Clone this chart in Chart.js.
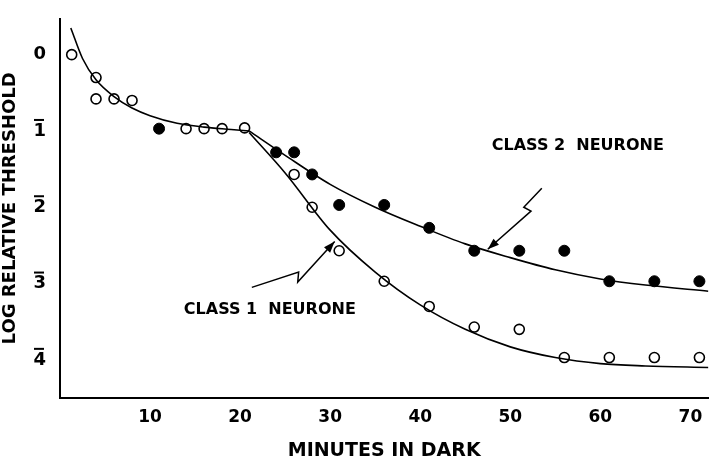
<!DOCTYPE html>
<html><head><meta charset="utf-8">
<script src="https://cdn.jsdelivr.net/npm/chart.js@4"></script>
<style>body{margin:0;background:#fff}#w{width:715px;height:464px}</style>
</head><body><div id="w"><canvas id="c"></canvas></div>
<script>
// data
const openX = [1.3, 4, 4, 6, 8, 14, 16, 18, 20.5, 26, 28, 31, 36, 41, 46, 51, 56, 61, 66, 71];
const openY = [0, 0.3, 0.58, 0.58, 0.6, 0.97, 0.97, 0.97, 0.96, 1.57, 2, 2.57, 2.97, 3.3, 3.57, 3.6, 3.97, 3.97, 3.97, 3.97];
const fillX = [11, 24, 26, 28, 31, 36, 41, 46, 51, 56, 61, 66, 71];
const fillY = [0.97, 1.28, 1.28, 1.57, 1.97, 1.97, 2.27, 2.57, 2.57, 2.57, 2.97, 2.97, 2.97];
const earlyX = [1.2, 2.5, 4, 6, 8, 10, 13, 16, 19, 21];
const earlyY = [-0.35, 0.05, 0.33, 0.55, 0.7, 0.8, 0.9, 0.95, 0.98, 1.0];
const c2X = [21, 25, 30, 35, 40, 45, 50, 55, 60, 65, 72];
const c2Y = [1.0, 1.32, 1.7, 2.0, 2.25, 2.48, 2.66, 2.82, 2.94, 3.02, 3.1];
const c1X = [21, 25, 30, 35, 40, 45, 50, 55, 60, 65, 72];
const c1Y = [1.02, 1.55, 2.3, 2.85, 3.28, 3.6, 3.83, 3.97, 4.05, 4.08, 4.1];
const yTickLabels = ['0', '1', '2', '3', '4'];
const xTickValues = [10, 20, 30, 40, 50, 60, 70];

const FONT = '"DejaVu Sans", sans-serif';
const pts = (xs, ys) => xs.map((x, i) => ({ x, y: ys[i] }));
const curve = (xs, ys) => ({ type: 'line', data: pts(xs, ys), borderColor: '#000', borderWidth: 1.6,
  pointRadius: 0, tension: 0.4, cubicInterpolationMode: 'monotone', fill: false });

const notes = {
  id: 'notes',
  afterDatasetsDraw(chart) {
    const { ctx, scales: { x, y } } = chart;
    ctx.save();
    ctx.fillStyle = '#000'; ctx.strokeStyle = '#000'; ctx.lineWidth = 1.5;
    ctx.font = 'bold 16px ' + FONT;
    ctx.textAlign = 'center'; ctx.textBaseline = 'middle';
    ctx.fillText('CLASS 2  NEURONE', x.getPixelForValue(57.5), y.getPixelForValue(1.2));
    ctx.fillText('CLASS 1  NEURONE', x.getPixelForValue(23.3), y.getPixelForValue(3.35));
    // overbars on y tick labels (negative characteristic notation)
    y.ticks.forEach(t => {
      if (t.value === 0) return;
      const py = y.getPixelForValue(t.value);
      ctx.fillRect(34, py - 12, 10, 2);
    });
    const bolt = (p) => {
      ctx.beginPath();
      p.forEach((q, i) => { const X = x.getPixelForValue(q[0]), Y = y.getPixelForValue(q[1]); i ? ctx.lineTo(X, Y) : ctx.moveTo(X, Y); });
      ctx.stroke();
      const a = p[p.length - 2], b = p[p.length - 1];
      const bx = x.getPixelForValue(b[0]), by = y.getPixelForValue(b[1]);
      const ang = Math.atan2(by - y.getPixelForValue(a[1]), bx - x.getPixelForValue(a[0]));
      ctx.beginPath(); ctx.moveTo(bx, by);
      ctx.lineTo(bx - 12 * Math.cos(ang - 0.35), by - 12 * Math.sin(ang - 0.35));
      ctx.lineTo(bx - 12 * Math.cos(ang + 0.35), by - 12 * Math.sin(ang + 0.35));
      ctx.closePath(); ctx.fill();
    };
    bolt([[53.5, 1.75], [51.5, 2.0], [52.3, 2.05], [47.5, 2.55]]);
    bolt([[21.3, 3.05], [26.5, 2.85], [26.4, 2.98], [30.5, 2.45]]);
    ctx.restore();
  }
};

new Chart(document.getElementById('c'), {
  type: 'scatter',
  data: { datasets: [
    curve(earlyX, earlyY), curve(c2X, c2Y), curve(c1X, c1Y),
    { data: pts(fillX, fillY), pointRadius: 5.5, pointBackgroundColor: '#000', pointBorderColor: '#000' },
    { data: pts(openX, openY), pointRadius: 5, pointBackgroundColor: '#fff', pointBorderColor: '#000', pointBorderWidth: 1.6 }
  ] },
  options: {
    responsive: true, maintainAspectRatio: false, animation: false,
    layout: { padding: { top: 10, right: 3, left: 0, bottom: 0 } },
    plugins: { legend: { display: false }, tooltip: { enabled: false } },
    scales: {
      x: { type: 'linear', min: 0, max: 72, grid: { display: false, tickLength: 6 },
        border: { color: '#000', width: 2 },
        afterFit: s => { s.height = 66; },
        afterBuildTicks: s => { s.ticks = xTickValues.map(v => ({ value: v })); },
        ticks: { color: '#000', font: { size: 17, weight: 'bold', family: FONT } },
        title: { display: true, text: 'MINUTES IN DARK', color: '#000', padding: 2,
          font: { size: 19, weight: 'bold', family: FONT } } },
      y: { type: 'linear', reverse: true, min: -0.47, max: 4.5, grid: { display: false, tickLength: 6 },
        border: { color: '#000', width: 2 },
        afterFit: s => { s.width = 60; },
        afterBuildTicks: s => { s.ticks = [0, 1, 2, 3, 4].map(v => ({ value: v })); },
        ticks: { color: '#000', padding: 8, font: { size: 18, weight: 'bold', family: FONT },
          callback: v => yTickLabels[v] },
        title: { display: true, text: 'LOG RELATIVE THRESHOLD', color: '#000', padding: 0,
          font: { size: 18, weight: 'bold', family: FONT } } }
    }
  },
  plugins: [notes]
});
</script></body></html>
